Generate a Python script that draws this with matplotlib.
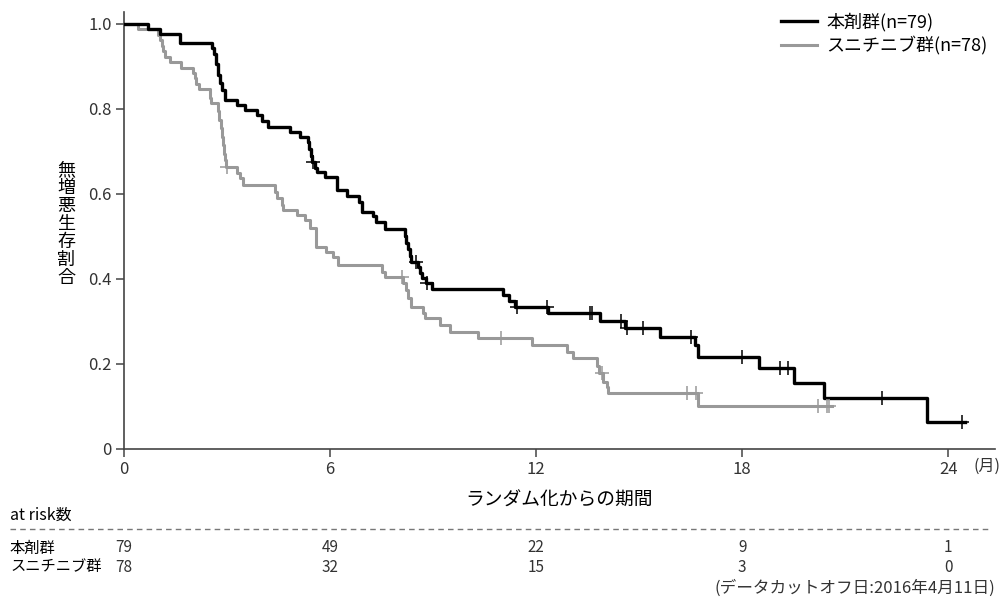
import matplotlib
matplotlib.use("Agg")
import matplotlib.pyplot as plt
import matplotlib.transforms as mtransforms
from matplotlib.lines import Line2D
import numpy as np

plt.rcParams['font.family'] = ['Noto Sans CJK JP', 'DejaVu Sans']

# 本剤群 (n=79): step times and survival after each step
drug_t = [0, 0.71, 1.05, 1.63, 2.55, 2.62, 2.68, 2.74, 2.80, 2.86, 2.94, 3.28, 3.52,
          3.86, 4.02, 4.20, 4.83, 5.12, 5.36, 5.40, 5.44, 5.48, 5.55, 5.62, 5.85,
          6.19, 6.48, 6.85, 6.92, 7.25, 7.35, 7.60, 8.18, 8.22, 8.27, 8.32, 8.36,
          8.55, 8.62, 8.68, 8.78, 8.98, 11.04, 11.20, 11.38, 12.35, 13.86, 14.58,
          15.60, 16.62, 16.72, 18.50, 19.52, 20.38, 23.39]
drug_s = [1.0, 0.987, 0.975, 0.956, 0.943, 0.930, 0.905, 0.880, 0.860, 0.845, 0.821,
          0.809, 0.797, 0.785, 0.771, 0.758, 0.746, 0.734, 0.721, 0.705, 0.690, 0.675,
          0.660, 0.652, 0.640, 0.609, 0.594, 0.580, 0.558, 0.547, 0.533, 0.517, 0.500,
          0.485, 0.470, 0.455, 0.441, 0.429, 0.415, 0.402, 0.390, 0.376, 0.362, 0.348,
          0.334, 0.319, 0.300, 0.284, 0.263, 0.245, 0.217, 0.190, 0.155, 0.119, 0.063]
drug_end = 24.5
drug_cens = [5.50, 8.50, 8.81, 11.43, 12.33, 13.56, 13.62, 14.46, 14.65, 15.10,
             16.50, 18.00, 19.10, 19.34, 22.08, 24.41]

# スニチニブ群 (n=78)
suni_t = [0, 0.42, 1.00, 1.05, 1.10, 1.15, 1.20, 1.34, 1.66, 2.00, 2.06, 2.10, 2.18,
          2.50, 2.52, 2.75, 2.78, 2.81, 2.84, 2.87, 2.90, 2.93, 2.96, 3.28, 3.38,
          3.47, 4.39, 4.45, 4.59, 4.62, 5.03, 5.28, 5.43, 5.58, 5.60, 5.88, 6.08,
          6.24, 7.50, 7.60, 8.13, 8.20, 8.27, 8.35, 8.72, 8.75, 9.20, 9.49, 10.32,
          11.87, 12.89, 13.08, 13.76, 13.82, 13.96, 14.05, 14.10, 16.72]
suni_s = [1.0, 0.987, 0.974, 0.962, 0.949, 0.936, 0.923, 0.910, 0.897, 0.885, 0.872,
          0.859, 0.846, 0.826, 0.813, 0.795, 0.775, 0.755, 0.735, 0.715, 0.695, 0.680,
          0.664, 0.649, 0.637, 0.621, 0.605, 0.590, 0.575, 0.562, 0.551, 0.539, 0.519,
          0.500, 0.476, 0.464, 0.452, 0.433, 0.417, 0.405, 0.390, 0.374, 0.355, 0.335,
          0.321, 0.307, 0.292, 0.276, 0.260, 0.245, 0.229, 0.213, 0.195, 0.178, 0.158,
          0.145, 0.131, 0.100]
suni_end = 20.6
suni_cens = [2.99, 8.08, 10.97, 13.93, 16.38, 16.65, 20.20, 20.46, 20.53]

risk_times = [0, 6, 12, 18, 24]
risk_drug = [79, 49, 22, 9, 1]
risk_suni = [78, 32, 15, 3, 0]

fig = plt.figure(figsize=(10, 5.98), dpi=100)
ax = fig.add_axes([0.124, 0.2492, 0.871, 0.7308])


def km(t, s, end, cens, color, lw, label):
    tt = list(t) + [end]
    ss = list(s) + [s[-1]]
    ax.step(tt, ss, where='post', color=color, lw=lw, label=label, zorder=3)
    idx = np.searchsorted(t, cens, side='right') - 1
    ax.plot(cens, np.array(s)[idx], ls='none', marker='+', ms=10, mew=1.1,
            color=color, zorder=4)


km(suni_t, suni_s, suni_end, suni_cens, '#999999', 2.2, 'スニチニブ群(n=78)')
km(drug_t, drug_s, drug_end, drug_cens, '#000000', 2.4, '本剤群(n=79)')

ax.set_xlim(0, 25.36)
ax.set_ylim(0, 1.028)
ax.set_xticks([0, 6, 12, 18, 24])
ax.set_yticks([0, 0.2, 0.4, 0.6, 0.8, 1.0])
ax.set_yticklabels(['0', '0.2', '0.4', '0.6', '0.8', '1.0'])
for side in ['top', 'right']:
    ax.spines[side].set_visible(False)
for side in ['left', 'bottom']:
    ax.spines[side].set_color('#444444')
    ax.spines[side].set_linewidth(1.2)
ax.tick_params(direction='out', length=6, width=1.1, color='#444444',
               labelsize=12, labelcolor='#333333', pad=3)

handles, labels = ax.get_legend_handles_labels()
ax.legend(handles[::-1], labels[::-1], loc='upper right', bbox_to_anchor=(1.0, 1.015),
          frameon=False, fontsize=13, handlelength=2.0, labelspacing=0.3,
          handletextpad=0.5, borderaxespad=0)

ax.set_xlabel('ランダム化からの期間', fontsize=13.5, labelpad=8)
fig.text(0.066, 0.625, '\n'.join('無増悪生存割合'), ha='center', va='center',
         fontsize=13, linespacing=1.0)
fig.text(0.987, 1 - 466 / 598, '(月)', ha='center', va='center', fontsize=11.5,
         color='#333333')

# at risk table
trans = mtransforms.blended_transform_factory(ax.transData, fig.transFigure)
fig.text(0.01, 1 - 515 / 598, 'at risk数', ha='left', va='center', fontsize=11.5)
fig.add_artist(Line2D([0.01, 0.99], [1 - 529 / 598] * 2, transform=fig.transFigure,
                      color='#777777', lw=1, ls=(0, (4, 3))))
fig.text(0.01, 1 - 548 / 598, '本剤群', ha='left', va='center', fontsize=11)
fig.text(0.01, 1 - 567 / 598, 'スニチニブ群', ha='left', va='center', fontsize=11)
for t, a, b in zip(risk_times, risk_drug, risk_suni):
    ax.text(t, 1 - 548 / 598, str(a), transform=trans, ha='center', va='center',
            fontsize=11, color='#333333')
    ax.text(t, 1 - 567 / 598, str(b), transform=trans, ha='center', va='center',
            fontsize=11, color='#333333')
fig.text(0.995, 1 - 588 / 598, '(データカットオフ日:2016年4月11日)', ha='right',
         va='center', fontsize=12, color='#333333')

fig.savefig('out.png', dpi=100)
